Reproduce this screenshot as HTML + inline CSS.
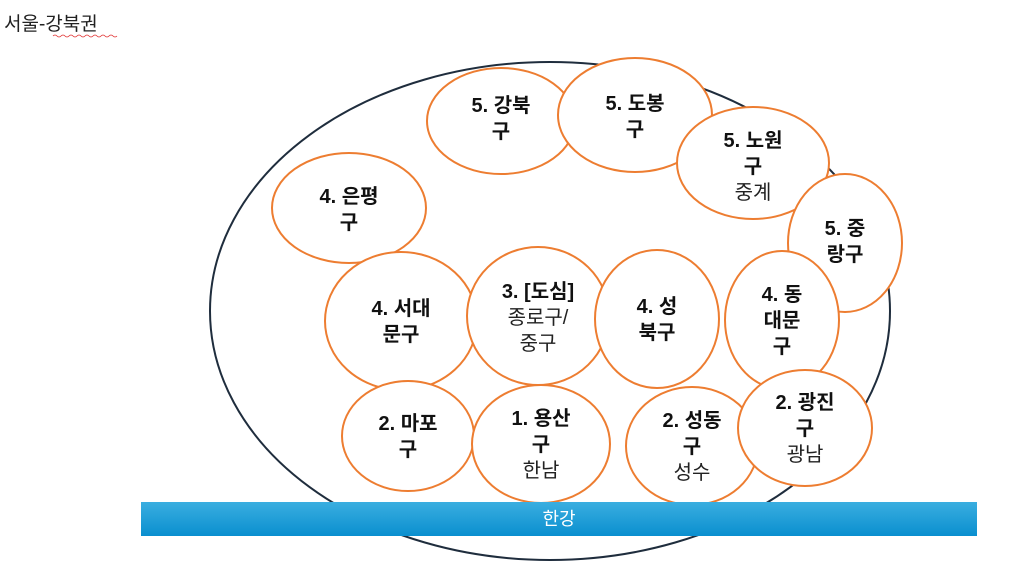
<!DOCTYPE html>
<html><head><meta charset="utf-8"><style>
html,body{margin:0;padding:0;background:#fff;}
svg{display:block;}
text{font-family:"Liberation Sans","Noto Sans CJK KR",sans-serif;}
</style></head><body>
<svg width="1009" height="575" viewBox="0 0 1009 575" xmlns="http://www.w3.org/2000/svg">
<defs><linearGradient id="g" x1="0" y1="0" x2="0" y2="1"><stop offset="0" stop-color="#3aaee0"/><stop offset="1" stop-color="#0a8fcf"/></linearGradient></defs>
<text x="4" y="30" font-size="19" fill="#222">서울-강북권</text>
<path d="M53 36 q2 -2 4 0 t4 0 t4 0 t4 0 t4 0 t4 0 t4 0 t4 0 t4 0 t4 0 t4 0 t4 0 t4 0 t4 0 t4 0 t4 0" fill="none" stroke="#e03030" stroke-width="0.8"/>
<ellipse cx="550" cy="311" rx="340" ry="249" fill="none" stroke="#1f2d3d" stroke-width="2"/>
<g fill="#fff" stroke="#ed7d31" stroke-width="2">
<ellipse cx="501" cy="121" rx="74" ry="53"/>
<ellipse cx="635" cy="115" rx="77" ry="57"/>
<ellipse cx="753" cy="163" rx="76" ry="56"/>
<ellipse cx="845" cy="243" rx="57" ry="69"/>
<ellipse cx="349" cy="208" rx="77" ry="55"/>
<ellipse cx="401" cy="321" rx="76" ry="69"/>
<ellipse cx="538" cy="316" rx="71" ry="69"/>
<ellipse cx="657" cy="319" rx="62" ry="69"/>
<ellipse cx="782" cy="320" rx="57" ry="69"/>
<ellipse cx="408" cy="436" rx="66" ry="55"/>
<ellipse cx="541" cy="444" rx="69" ry="59"/>
<ellipse cx="692" cy="446" rx="66" ry="59"/>
<ellipse cx="805" cy="428" rx="67" ry="58"/>
</g>
<g font-size="20" font-weight="bold" fill="#111" text-anchor="middle">
<text x="501" y="112">5. 강북</text><text x="501" y="138">구</text>
<text x="635" y="110">5. 도봉</text><text x="635" y="136">구</text>
<text x="753" y="147">5. 노원</text><text x="753" y="173">구</text>
<text x="845" y="235">5. 중</text><text x="845" y="261">랑구</text>
<text x="349" y="203">4. 은평</text><text x="349" y="229">구</text>
<text x="401" y="315">4. 서대</text><text x="401" y="341">문구</text>
<text x="538" y="298">3. [도심]</text>
<text x="657" y="313">4. 성</text><text x="657" y="339">북구</text>
<text x="782" y="301">4. 동</text><text x="782" y="327">대문</text><text x="782" y="353">구</text>
<text x="408" y="430">2. 마포</text><text x="408" y="456">구</text>
<text x="541" y="425">1. 용산</text><text x="541" y="451">구</text>
<text x="692" y="427">2. 성동</text><text x="692" y="453">구</text>
<text x="805" y="409">2. 광진</text><text x="805" y="435">구</text>
</g>
<g font-size="20" fill="#222" text-anchor="middle">
<text x="753" y="199">중계</text>
<text x="538" y="324">종로구/</text><text x="538" y="350">중구</text>
<text x="541" y="477">한남</text>
<text x="692" y="479">성수</text>
<text x="805" y="461">광남</text>
</g>
<rect x="141" y="502" width="836" height="34" fill="url(#g)"/>
<text x="559" y="525" font-size="18" fill="#fff" text-anchor="middle">한강</text>
</svg>
</body></html>
